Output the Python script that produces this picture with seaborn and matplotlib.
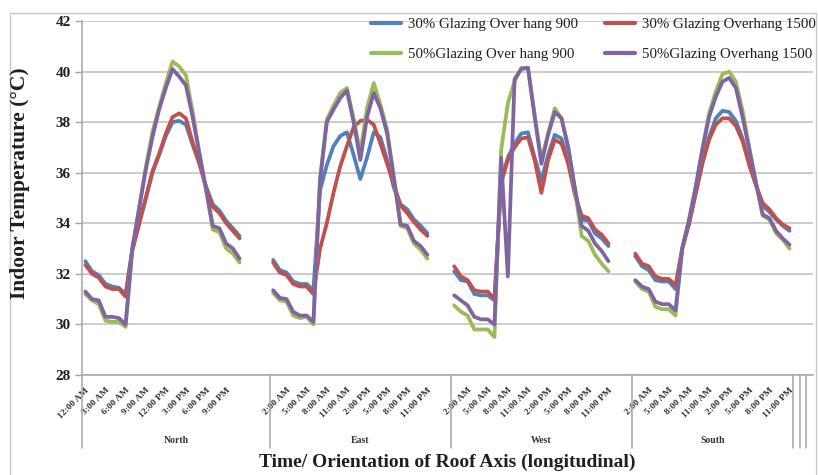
import numpy as np
import pandas as pd
import seaborn as sns
import matplotlib
matplotlib.use("Agg")
import matplotlib.pyplot as plt
from matplotlib.lines import Line2D
from matplotlib.patches import Rectangle

# ---------------------------------------------------------------- data
ORIENTATIONS = ["North", "East", "West", "South"]
# number of category slots each orientation block occupies on the axis
# (24 hourly readings plus empty slots), followed by three empty blocks
BLOCK_SLOTS = [28, 27, 27, 24, 1, 1, 1]

HOURS = ["12:00 AM", "1:00 AM", "2:00 AM", "3:00 AM", "4:00 AM", "5:00 AM",
         "6:00 AM", "7:00 AM", "8:00 AM", "9:00 AM", "10:00 AM", "11:00 AM",
         "12:00 PM", "1:00 PM", "2:00 PM", "3:00 PM", "4:00 PM", "5:00 PM",
         "6:00 PM", "7:00 PM", "8:00 PM", "9:00 PM", "10:00 PM", "11:00 PM"]

SERIES = ["30% Glazing Over hang 900", "30% Glazing Overhang 1500",
          "50%Glazing Over hang 900", "50%Glazing Overhang 1500"]

north_g30_oh900 = [32.5, 32.1, 31.95, 31.6, 31.5, 31.45, 31.2, 33.0, 34.0, 34.95, 36.0, 36.7,
                   37.45, 38.0, 38.05, 37.9, 37.1, 36.35, 35.45, 34.75, 34.5, 34.1, 33.8, 33.5]
north_g30_oh1500 = [32.35, 32.0, 31.85, 31.5, 31.4, 31.4, 31.1, 32.9, 33.95, 35.0, 36.05, 36.75,
                    37.55, 38.2, 38.35, 38.15, 37.2, 36.4, 35.4, 34.65, 34.4, 34.0, 33.7, 33.4]
north_g50_oh900 = [31.2, 30.95, 30.8, 30.15, 30.1, 30.1, 29.9, 33.0, 34.6, 36.2, 37.6, 38.6,
                   39.55, 40.4, 40.2, 39.85, 38.4, 36.8, 35.3, 33.75, 33.65, 33.0, 32.8, 32.45]
north_g50_oh1500 = [31.3, 31.0, 30.95, 30.3, 30.3, 30.25, 30.0, 33.0, 34.55, 36.1, 37.4, 38.5,
                    39.35, 40.1, 39.8, 39.45, 38.2, 36.75, 35.35, 33.9, 33.8, 33.2, 33.0, 32.6]

east_g30_oh900 = [32.55, 32.15, 32.05, 31.7, 31.6, 31.6, 31.35, 35.3, 36.3, 37.05, 37.45, 37.6,
                  36.7, 35.75, 36.6, 37.6, 37.4, 36.5, 35.4, 34.75, 34.55, 34.15, 33.9, 33.6]
east_g30_oh1500 = [32.45, 32.05, 31.95, 31.6, 31.5, 31.5, 31.2, 33.0, 34.0, 35.2, 36.25, 37.05,
                   37.8, 38.05, 38.1, 37.9, 37.15, 36.35, 35.55, 34.7, 34.4, 34.05, 33.75, 33.5]
east_g50_oh900 = [31.25, 30.95, 30.9, 30.35, 30.25, 30.3, 30.0, 35.8, 38.1, 38.65, 39.15, 39.35,
                  38.15, 36.8, 38.55, 39.55, 38.7, 37.7, 35.8, 33.9, 33.8, 33.2, 32.95, 32.6]
east_g50_oh1500 = [31.35, 31.05, 31.0, 30.5, 30.35, 30.35, 30.1, 35.7, 38.0, 38.5, 38.95, 39.25,
                   38.0, 36.5, 38.2, 39.15, 38.55, 37.55, 35.8, 33.95, 33.9, 33.3, 33.1, 32.75]

west_g30_oh900 = [32.1, 31.75, 31.7, 31.2, 31.15, 31.15, 30.95, 35.7, 36.6, 37.15, 37.55, 37.6,
                  36.6, 35.7, 36.7, 37.5, 37.35, 36.5, 35.15, 34.15, 34.1, 33.6, 33.4, 33.1]
west_g30_oh1500 = [32.3, 31.9, 31.75, 31.35, 31.3, 31.3, 31.0, 35.6, 36.5, 37.0, 37.35, 37.4,
                   36.5, 35.2, 36.5, 37.3, 37.15, 36.35, 35.15, 34.3, 34.2, 33.75, 33.55, 33.2]
west_g50_oh900 = [30.75, 30.5, 30.35, 29.8, 29.8, 29.8, 29.5, 36.9, 38.75, 39.6, 40.15, 40.15,
                  38.3, 36.5, 37.55, 38.55, 38.15, 37.0, 35.3, 33.5, 33.3, 32.75, 32.4, 32.1]
west_g50_oh1500 = [31.15, 30.95, 30.75, 30.3, 30.2, 30.2, 30.0, 36.6, 31.9, 39.7, 40.1, 40.15,
                   38.2, 36.35, 37.5, 38.4, 38.15, 37.0, 35.4, 33.9, 33.7, 33.2, 32.9, 32.5]

south_g30_oh900 = [32.7, 32.3, 32.15, 31.75, 31.7, 31.7, 31.4, 33.0, 34.0, 35.2, 36.4, 37.4,
                   38.15, 38.45, 38.4, 38.05, 37.35, 36.35, 35.5, 34.7, 34.45, 34.15, 33.9, 33.7]
south_g30_oh1500 = [32.8, 32.4, 32.3, 31.9, 31.8, 31.8, 31.55, 33.0, 33.95, 35.15, 36.35, 37.3,
                    37.9, 38.15, 38.15, 37.85, 37.25, 36.3, 35.5, 34.8, 34.55, 34.2, 33.95, 33.8]
south_g50_oh900 = [31.7, 31.4, 31.3, 30.7, 30.6, 30.6, 30.35, 33.0, 34.15, 35.45, 36.95, 38.35,
                   39.2, 39.9, 40.0, 39.6, 38.45, 37.0, 35.6, 34.3, 34.15, 33.6, 33.35, 33.0]
south_g50_oh1500 = [31.75, 31.5, 31.4, 30.9, 30.8, 30.8, 30.55, 33.0, 34.1, 35.4, 36.9, 38.2,
                    39.0, 39.6, 39.75, 39.35, 38.2, 36.9, 35.6, 34.35, 34.2, 33.7, 33.4, 33.15]

VALUES = {
    "North": [north_g30_oh900, north_g30_oh1500, north_g50_oh900, north_g50_oh1500],
    "East": [east_g30_oh900, east_g30_oh1500, east_g50_oh900, east_g50_oh1500],
    "West": [west_g30_oh900, west_g30_oh1500, west_g50_oh900, west_g50_oh1500],
    "South": [south_g30_oh900, south_g30_oh1500, south_g50_oh900, south_g50_oh1500],
}

COLORS = ["#4F81BD", "#C0504D", "#9BBB59", "#8064A2"]

# ---------------------------------------------------------------- layout of categories
block_start = np.concatenate([[0], np.cumsum(BLOCK_SLOTS)])
n_slots = int(block_start[-1])

rows = []
for b, orient in enumerate(ORIENTATIONS):
    for s, name in enumerate(SERIES):
        for h, v in enumerate(VALUES[orient][s]):
            rows.append({"pos": block_start[b] + h + 0.5, "temp": v,
                         "series": name, "orientation": orient})
df = pd.DataFrame(rows)

# category label for every slot (blank for empty slots)
slot_labels = [""] * n_slots
for b, orient in enumerate(ORIENTATIONS):
    for h, lab in enumerate(HOURS):
        slot_labels[block_start[b] + h] = lab
tick_idx = list(range(0, n_slots, 3))

# ---------------------------------------------------------------- figure
sns.set_theme(style="white")
plt.rcParams["font.family"] = ["Liberation Serif", "DejaVu Serif"]
text_color = "#1f1f1f"
grid_color = "#BFBFBF"

W, H = 818, 475
fig = plt.figure(figsize=(W / 100, H / 100), dpi=100)
ax = fig.add_axes([82 / W, 1 - 375 / H, (813 - 82) / W, (375 - 21) / H])

sns.lineplot(data=df, x="pos", y="temp", hue="series", hue_order=SERIES,
             palette=COLORS, units="orientation", estimator=None,
             linewidth=2.7, legend=False, ax=ax, zorder=3)

ax.set_xlim(0, n_slots)
ax.set_ylim(28, 42)
ax.set_yticks(np.arange(28, 43, 2))
ax.yaxis.grid(True, color=grid_color, linewidth=1.1)
ax.xaxis.grid(False)
ax.set_axisbelow(True)

for side in ["top", "right"]:
    ax.spines[side].set_visible(False)
for side in ["left", "bottom"]:
    ax.spines[side].set_color("#A6A6A6")
    ax.spines[side].set_linewidth(1.1)

ax.tick_params(axis="y", which="major", left=True, length=5, width=1,
               color="#A6A6A6", pad=3, labelsize=11, labelcolor=text_color)
for t in ax.get_yticklabels():
    t.set_fontweight("bold")

ax.set_xticks([i + 0.5 for i in tick_idx])
ax.set_xticklabels([slot_labels[i] for i in tick_idx], rotation=45,
                   ha="right", va="top", rotation_mode="anchor",
                   fontsize=6.8, fontweight="bold", color="#333333")
ax.tick_params(axis="x", length=0, pad=8)
ax.set_xlabel("")
ax.set_ylabel("")

# block dividers below the axis and orientation names
for b in range(len(BLOCK_SLOTS)):
    ax.plot([block_start[b], block_start[b]], [0, -0.205], color="#A6A6A6",
            linewidth=1.1, transform=ax.get_xaxis_transform(), clip_on=False)
for b, orient in enumerate(ORIENTATIONS):
    mid = (block_start[b] + block_start[b + 1]) / 2
    ax.text(mid, -0.184, orient, transform=ax.get_xaxis_transform(),
            ha="center", va="center", fontsize=7, fontweight="bold", color="#333333")

fig.text(20 / W, 1 - 183 / H, "Indoor Temperature (°C)", rotation=90,
         ha="center", va="center", fontsize=15.5, fontweight="bold", color=text_color)
fig.text(447 / W, 1 - 462 / H, "Time/ Orientation of Roof Axis (longitudinal)",
         ha="center", va="center", fontsize=14, fontweight="bold", color=text_color)

handles = [Line2D([], [], color=c, linewidth=3) for c in COLORS]
order = [0, 2, 1, 3]
leg = ax.legend([handles[i] for i in order], [SERIES[i] for i in order],
                ncol=2, loc="upper left", bbox_to_anchor=(371 / W, 1 - 18 / H),
                bbox_transform=fig.transFigure, frameon=False, fontsize=10.7,
                handlelength=2.0, handletextpad=0.5, columnspacing=1.8,
                labelspacing=1.1, borderaxespad=0, borderpad=0)
for t in leg.get_texts():
    t.set_color(text_color)

fig.patches.append(Rectangle((10 / W, -0.02), (816 - 10) / W, 1 - 13 / H + 0.02,
                             transform=fig.transFigure, fill=False,
                             edgecolor="#C8C8C8", linewidth=1.0))

fig.savefig("out.png", dpi=100, facecolor="white")
